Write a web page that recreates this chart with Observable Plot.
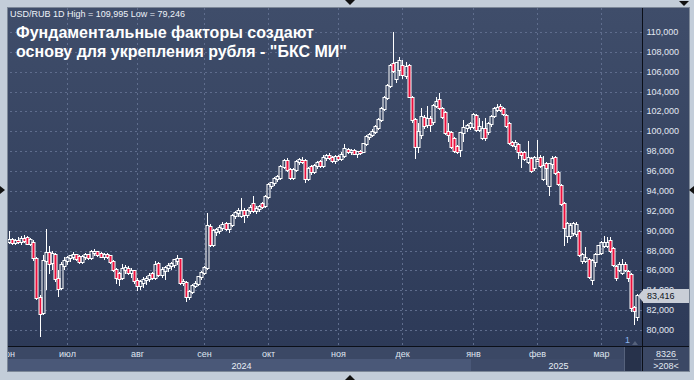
<!DOCTYPE html>
<html><head><meta charset="utf-8">
<script src="https://cdn.jsdelivr.net/npm/d3@7"></script>
<script src="https://cdn.jsdelivr.net/npm/@observablehq/plot@0.6"></script>
<style>
html,body{margin:0;padding:0;background:#c3cdd9;}
#wrap{position:relative;width:694px;height:380px;overflow:hidden;background:#c3cdd9;font-family:"Liberation Sans",Arial,sans-serif;}
#wrap div{position:absolute;}
#wrap svg{position:absolute;left:0;top:0;}
</style></head>
<body><div id="wrap"></div>
<script>
// ---- data ----
const opens  = [88.9,89.1,88.8,89.0,88.9,89.2,89.3,88.7,88.8,87.1,83.2,81.7,86.9,87.8,86.7,87.6,85.1,84.2,86.4,
86.9,87.2,87.3,87.5,87.3,86.8,87.3,87.5,87.2,87.8,87.9,87.7,87.3,87.6,87.4,86.8,86.0,85.6,85.2,86.0,86.1,85.7,85.9,
84.9,84.4,84.7,85.0,85.1,85.6,85.2,86.6,85.5,85.9,86.2,86.4,86.5,86.9,87.1,84.7,84.7,83.3,83.8,84.4,84.6,85.3,85.7,
86.2,90.4,88.6,89.9,90.0,90.3,90.7,90.2,90.6,91.5,91.8,91.5,92.0,91.6,92.0,92.7,92.0,92.2,92.7,92.5,
93.4,94.5,94.8,95.2,95.3,96.4,97.0,96.1,95.3,96.1,96.9,97.0,97.0,95.2,96.4,95.9,96.5,96.9,96.5,
97.3,97.5,97.3,97.0,97.4,97.2,97.5,98.1,97.9,98.0,97.7,97.9,97.9,98.7,99.4,99.6,99.9,100.3,101.1,102.2,103.4,104.6,
106.8,105.3,106.2,106.6,105.6,106.6,103.4,101.1,98.4,99.6,101.3,100.6,101.2,100.9,102.6,103.2,102.2,101.8,99.9,99.8,99.2,98.4,98.1,99.8,100.3,100.4,100.4,101.5,
100.1,99.3,100.2,99.9,100.7,101.5,102.1,102.4,102.2,101.5,100.7,98.8,98.5,98.6,97.8,97.8,96.9,97.2,96.3,97.0,97.3,95.2,96.7,94.5,96.7,97.3,95.8,94.5,92.7,
89.5,89.5,89.8,89.7,89.9,86.9,86.9,87.0,85.0,86.8,87.7,87.8,88.5,88.5,89.0,88.2,86.3,86.0,85.7,86.5,85.8,85.5,82.2,81.3];
const highs  = [90.0,89.3,89.2,89.4,89.5,89.6,89.5,89.3,89.1,87.3,83.5,87.5,90.2,88.5,88.0,87.8,86.0,86.8,87.3,
87.4,87.6,87.9,87.7,87.5,87.6,87.8,87.7,88.1,88.2,88.0,87.9,87.8,87.8,87.6,87.0,86.2,85.8,86.6,86.5,86.4,86.2,86.0,
85.2,85.0,85.3,85.4,85.7,85.8,86.9,86.8,86.3,86.4,86.7,86.8,87.1,87.5,87.2,85.1,84.9,84.0,84.6,84.9,85.4,85.9,86.4,
91.8,90.7,90.2,90.3,90.6,90.9,90.9,90.8,91.7,92.0,92.3,93.3,92.3,92.2,92.6,93.5,92.5,92.6,92.9,93.6,
94.8,94.9,95.4,95.6,96.6,97.2,97.3,96.3,96.3,97.1,97.3,97.4,97.2,96.4,96.6,96.7,97.0,97.1,97.6,
97.7,97.8,97.5,97.6,97.6,97.9,98.7,98.3,98.2,98.2,98.0,98.1,98.8,99.6,99.8,100.2,100.6,101.3,102.4,103.6,104.8,106.8,
109.995,107.0,107.5,107.2,107.0,106.8,103.6,101.3,100.8,102.3,101.6,102.6,101.5,102.8,103.5,103.9,102.4,102.0,100.8,100.0,99.4,98.6,99.9,101.1,100.7,100.9,101.8,101.7,
101.3,101.0,101.3,100.9,101.6,102.4,102.8,102.8,102.4,101.7,100.9,99.0,99.1,98.8,98.0,98.0,99.0,97.4,97.5,99.1,97.6,97.5,96.9,96.8,97.5,97.5,96.0,94.7,92.9,
90.9,90.8,90.9,90.9,90.1,87.8,88.4,87.2,87.1,87.8,88.6,89.0,89.5,89.4,89.4,88.4,86.5,86.8,87.1,86.8,86.0,85.7,82.4,83.6];
const lows   = [88.7,88.6,88.6,88.7,88.6,88.8,88.6,88.5,86.9,83.0,79.246,81.5,84.0,85.6,86.0,84.8,83.3,84.0,86.0,
86.5,86.8,87.0,86.9,86.6,86.6,87.0,87.0,87.0,87.4,87.3,87.2,87.0,87.1,86.6,85.8,84.6,84.4,85.0,85.6,85.5,85.2,84.6,
83.9,84.0,84.2,84.5,84.8,85.0,85.0,85.3,85.2,85.0,85.8,86.0,86.2,86.5,84.5,84.4,82.8,83.0,83.6,84.2,84.4,85.0,85.5,
86.0,88.4,88.4,89.5,89.7,90.0,90.0,89.8,90.4,91.2,91.4,91.3,90.8,91.3,91.7,91.8,91.7,91.9,92.2,92.3,
93.2,94.2,94.5,94.9,95.1,96.2,95.9,95.1,95.1,95.9,96.6,96.7,94.8,95.0,95.6,95.7,96.2,96.3,96.3,
97.0,97.1,96.8,96.7,97.0,97.0,97.3,97.7,97.6,97.6,97.3,97.6,97.8,98.5,99.1,99.4,99.7,100.1,100.9,102.0,103.2,104.4,
105.9,104.9,105.6,105.3,105.3,103.4,100.8,97.2,97.8,99.2,100.2,100.3,99.9,100.6,102.3,102.1,101.2,99.6,98.9,98.2,97.8,97.7,97.4,98.9,99.9,100.1,100.2,99.9,
99.9,99.1,99.0,99.6,100.4,101.3,101.9,101.9,101.5,100.3,98.6,98.4,98.1,97.2,96.3,97.0,96.7,95.8,96.0,96.9,96.3,95.0,94.6,93.5,96.2,95.6,94.5,92.5,88.5,
88.8,89.2,89.5,89.4,87.3,86.6,86.7,85.1,84.5,86.3,87.5,87.6,88.3,88.3,87.8,86.3,84.9,85.8,85.5,85.8,84.8,81.8,80.5,80.9];
const closes = [89.1,88.8,89.0,88.9,89.2,89.0,88.7,89.1,87.2,83.2,81.6,86.9,87.8,86.6,87.7,85.1,84.1,86.5,86.9,
87.2,87.4,87.5,87.1,86.8,87.3,87.5,87.2,87.9,87.9,87.6,87.3,87.6,87.3,86.8,86.0,85.2,85.1,86.1,86.2,85.7,85.9,84.9,
84.4,84.8,85.0,85.1,85.4,85.2,86.5,85.5,86.0,86.2,86.4,86.6,87.0,87.1,84.7,84.8,83.3,83.8,84.4,84.6,85.3,85.7,86.2,
90.5,88.6,90.0,90.1,90.3,90.6,90.2,90.7,91.5,91.8,92.0,92.0,91.6,92.0,92.3,92.0,92.2,92.4,92.4,93.4,
94.6,94.8,95.2,95.4,96.4,97.0,96.1,95.3,96.1,96.9,97.1,96.9,95.2,96.2,95.9,96.5,96.8,96.5,97.3,
97.5,97.3,97.0,97.4,97.2,97.6,98.2,97.9,98.0,97.7,97.9,97.8,98.7,99.4,99.6,99.9,100.4,101.1,102.2,103.4,104.6,106.6,
106.1,106.9,107.1,105.7,106.5,103.5,101.1,98.4,99.9,101.4,100.5,101.2,100.6,102.6,103.0,102.3,101.4,99.8,99.6,98.4,98.0,97.9,99.8,100.3,100.5,100.7,101.6,100.1,
100.4,100.2,99.3,100.7,101.4,102.2,102.3,102.1,101.7,100.5,98.8,98.6,98.8,97.9,97.6,97.2,97.3,96.0,97.3,97.1,96.5,96.5,96.3,96.7,97.2,95.8,94.7,92.7,90.3,
90.7,90.5,90.7,90.6,87.5,87.5,87.2,85.3,86.9,87.6,88.5,88.8,88.8,88.8,88.0,86.5,85.2,86.5,86.5,86.0,85.2,82.2,81.9,83.416];

const yTicks      = [80,82,84,86,88,90,92,94,96,98,100,102,104,106,108,110];
const monthLabels = ["июн","июл","авг","сен","окт","ноя","дек","янв","фев","мар"];
const monthStart  = [-1,19,42,64,85,108,129,152,173,194];   // bar index of first day of month
const yearLabels  = ["2024","2025"];
const yearLabelAt = [76,180];                               // bar index under the year label
const titleLines  = ["Фундаментальные факторы создают","основу для укрепления рубля - \"БКС МИ\""];
const subtitle    = "USD/RUB 1D High = 109,995 Low = 79,246";
const lastClose   = closes[closes.length-1];

const candles = opens.map((o,i)=>({i, o, h:highs[i], l:lows[i], c:closes[i]}));
const fmt = v => v.toFixed(3).replace(".", ",");
const monthMap = new Map(monthStart.map((d,k)=>[d, monthLabels[k]]));
const yearMap  = new Map(yearLabelAt.map((d,k)=>[d, yearLabels[k]]));

const W = 694, H = 380;
const grid = {stroke:"#5f6d8d", strokeOpacity:1, strokeDasharray:"2,3"};
const chart = Plot.plot({
  width: W, height: H,
  marginLeft: 0, marginRight: 52, marginTop: 8, marginBottom: 34,
  x: {type:"linear", domain:[-9/3.05, 633/3.05], round:true, axis:null},
  y: {type:"linear", domain:[80-16/9.933, 110+24/9.933], round:true, axis:null},
  style: {background:"transparent", color:"#e2e8f2", fontFamily:"'Liberation Sans', Arial, sans-serif", fontSize:"9px", overflow:"visible"},
  marks: [
    Plot.gridY(yTicks, grid),
    Plot.gridX(monthStart, grid),
    Plot.ruleX(candles, {x:"i", y1:d=>Math.max(d.o,d.c), y2:"h", stroke:"#ffffff", strokeWidth:1}),
    Plot.ruleX(candles, {x:"i", y1:"l", y2:d=>Math.min(d.o,d.c), stroke:"#ffffff", strokeWidth:1}),
    Plot.rect(candles, {x1:"i", x2:"i", y1:"o", y2:"c", insetLeft:-1, insetRight:-2, insetTop:-0.5, insetBottom:-0.5,
      fill:d=>d.c<d.o ? "#ea0f3c" : "none", stroke:"#ffffff", strokeWidth:1}),
    Plot.axisY(yTicks, {anchor:"right", tickSize:0, tickPadding:4, tickFormat:fmt, color:"#e2e8f2", fontSize:9}),
    Plot.axisX(monthStart, {anchor:"bottom", tickSize:0, tickPadding:4, tickFormat:d=>monthMap.get(d), color:"#dfe5ef", fontSize:9}),
    Plot.axisX(yearLabelAt, {anchor:"bottom", tickSize:0, tickPadding:16, tickFormat:d=>yearMap.get(d), color:"#e8edf5", fontSize:9})
  ]
});

const xs = chart.scale("x"), ys = chart.scale("y");
const wrap = document.getElementById("wrap");
function box(css, html){ const d=document.createElement("div"); d.style.cssText=css; if(html!=null) d.innerHTML=html; wrap.appendChild(d); return d; }

const plotRight = xs.range[1], plotBottom = ys.range[0];
// backgrounds
box(`left:8px;top:8px;width:${682}px;height:${plotBottom-8}px;background:linear-gradient(#3f4d6a,#2d3a58);`);
box(`left:8px;top:${plotBottom}px;width:682px;height:${372-plotBottom}px;background:#3b4865;`);
const janX = xs.apply(monthStart[7]-0.5);
box(`left:8px;top:${plotBottom+13}px;width:${janX-8}px;height:${372-plotBottom-13}px;background:#4a5878;`);
box(`left:${janX}px;top:${plotBottom+13}px;width:${624-janX}px;height:${372-plotBottom-13}px;background:#3e4b69;`);
box(`left:624px;top:${plotBottom+1}px;width:16px;height:${372-plotBottom-1}px;background:#27324b;border-left:1px solid #56627c;`);

wrap.appendChild(chart);

// title + subtitle
box(`left:10px;top:9px;font-size:9px;line-height:10px;color:#eef2f8;white-space:nowrap;`, subtitle);
box(`left:16px;top:24px;font-size:16px;line-height:18.5px;font-weight:bold;color:#ffffff;white-space:nowrap;font-family:Arial,'Liberation Sans',sans-serif;`,
    titleLines.join("<br>").replace(/"/g,"&quot;"));

// separators
box(`left:${plotRight}px;top:8px;width:1px;height:${372-8}px;background:#0b0f18;`);
box(`left:8px;top:${plotBottom}px;width:682px;height:1px;background:#0b0f18;`);

// bottom-right counters
box(`left:643px;top:${plotBottom+3}px;width:46px;text-align:center;font-size:9px;line-height:10px;color:#e2e8f2;`, "8326");
box(`left:654px;top:${plotBottom+13}px;width:24px;height:1px;background:#8c97ac;`);
box(`left:643px;top:${plotBottom+15}px;width:46px;text-align:center;font-size:9px;line-height:10px;color:#e2e8f2;`, "&gt;208&lt;");
box(`left:625px;top:${plotBottom-11}px;font-size:9px;line-height:10px;color:#8db6ee;`, "1");
box(`left:632px;top:${plotBottom-5}px;width:0;height:0;border-left:3px solid transparent;border-right:3px solid transparent;border-bottom:4px solid #56627c;`);

// last price tag
const ty = ys.apply(lastClose);
box(`left:638px;top:${ty-6}px;width:0;height:0;border-top:6px solid transparent;border-bottom:6px solid transparent;border-right:5px solid #c9ced7;`);
box(`left:643px;top:${ty-7}px;width:47px;height:14px;background:#c9ced7;color:#10141c;font-size:9px;line-height:14px;padding-left:4px;box-sizing:border-box;`, fmt(lastClose));

// outer frame
box(`left:0;top:0;width:694px;height:8px;background:#c3cdd9;`);
box(`left:0;top:0;width:8px;height:380px;background:#c3cdd9;`);
box(`left:690px;top:0;width:4px;height:380px;background:#c3cdd9;`);
box(`left:0;top:372px;width:694px;height:8px;background:#c3cdd9;`);
box(`left:7px;top:7px;width:683px;height:365px;border:1px solid #7d8898;box-sizing:border-box;`);
// small arrows
box(`left:345px;top:0;width:0;height:0;border-left:5px solid transparent;border-right:5px solid transparent;border-top:5px solid #111;`);
box(`left:345px;top:375px;width:0;height:0;border-left:5px solid transparent;border-right:5px solid transparent;border-bottom:5px solid #111;`);
box(`left:679px;top:1px;width:0;height:0;border-left:5px solid transparent;border-right:5px solid transparent;border-top:5px solid #111;`);
box(`left:0;top:186px;width:0;height:0;border-top:4px solid transparent;border-bottom:4px solid transparent;border-left:5px solid #111;`);
box(`left:689px;top:186px;width:0;height:0;border-top:4px solid transparent;border-bottom:4px solid transparent;border-right:5px solid #111;`);
</script>
</body></html>
